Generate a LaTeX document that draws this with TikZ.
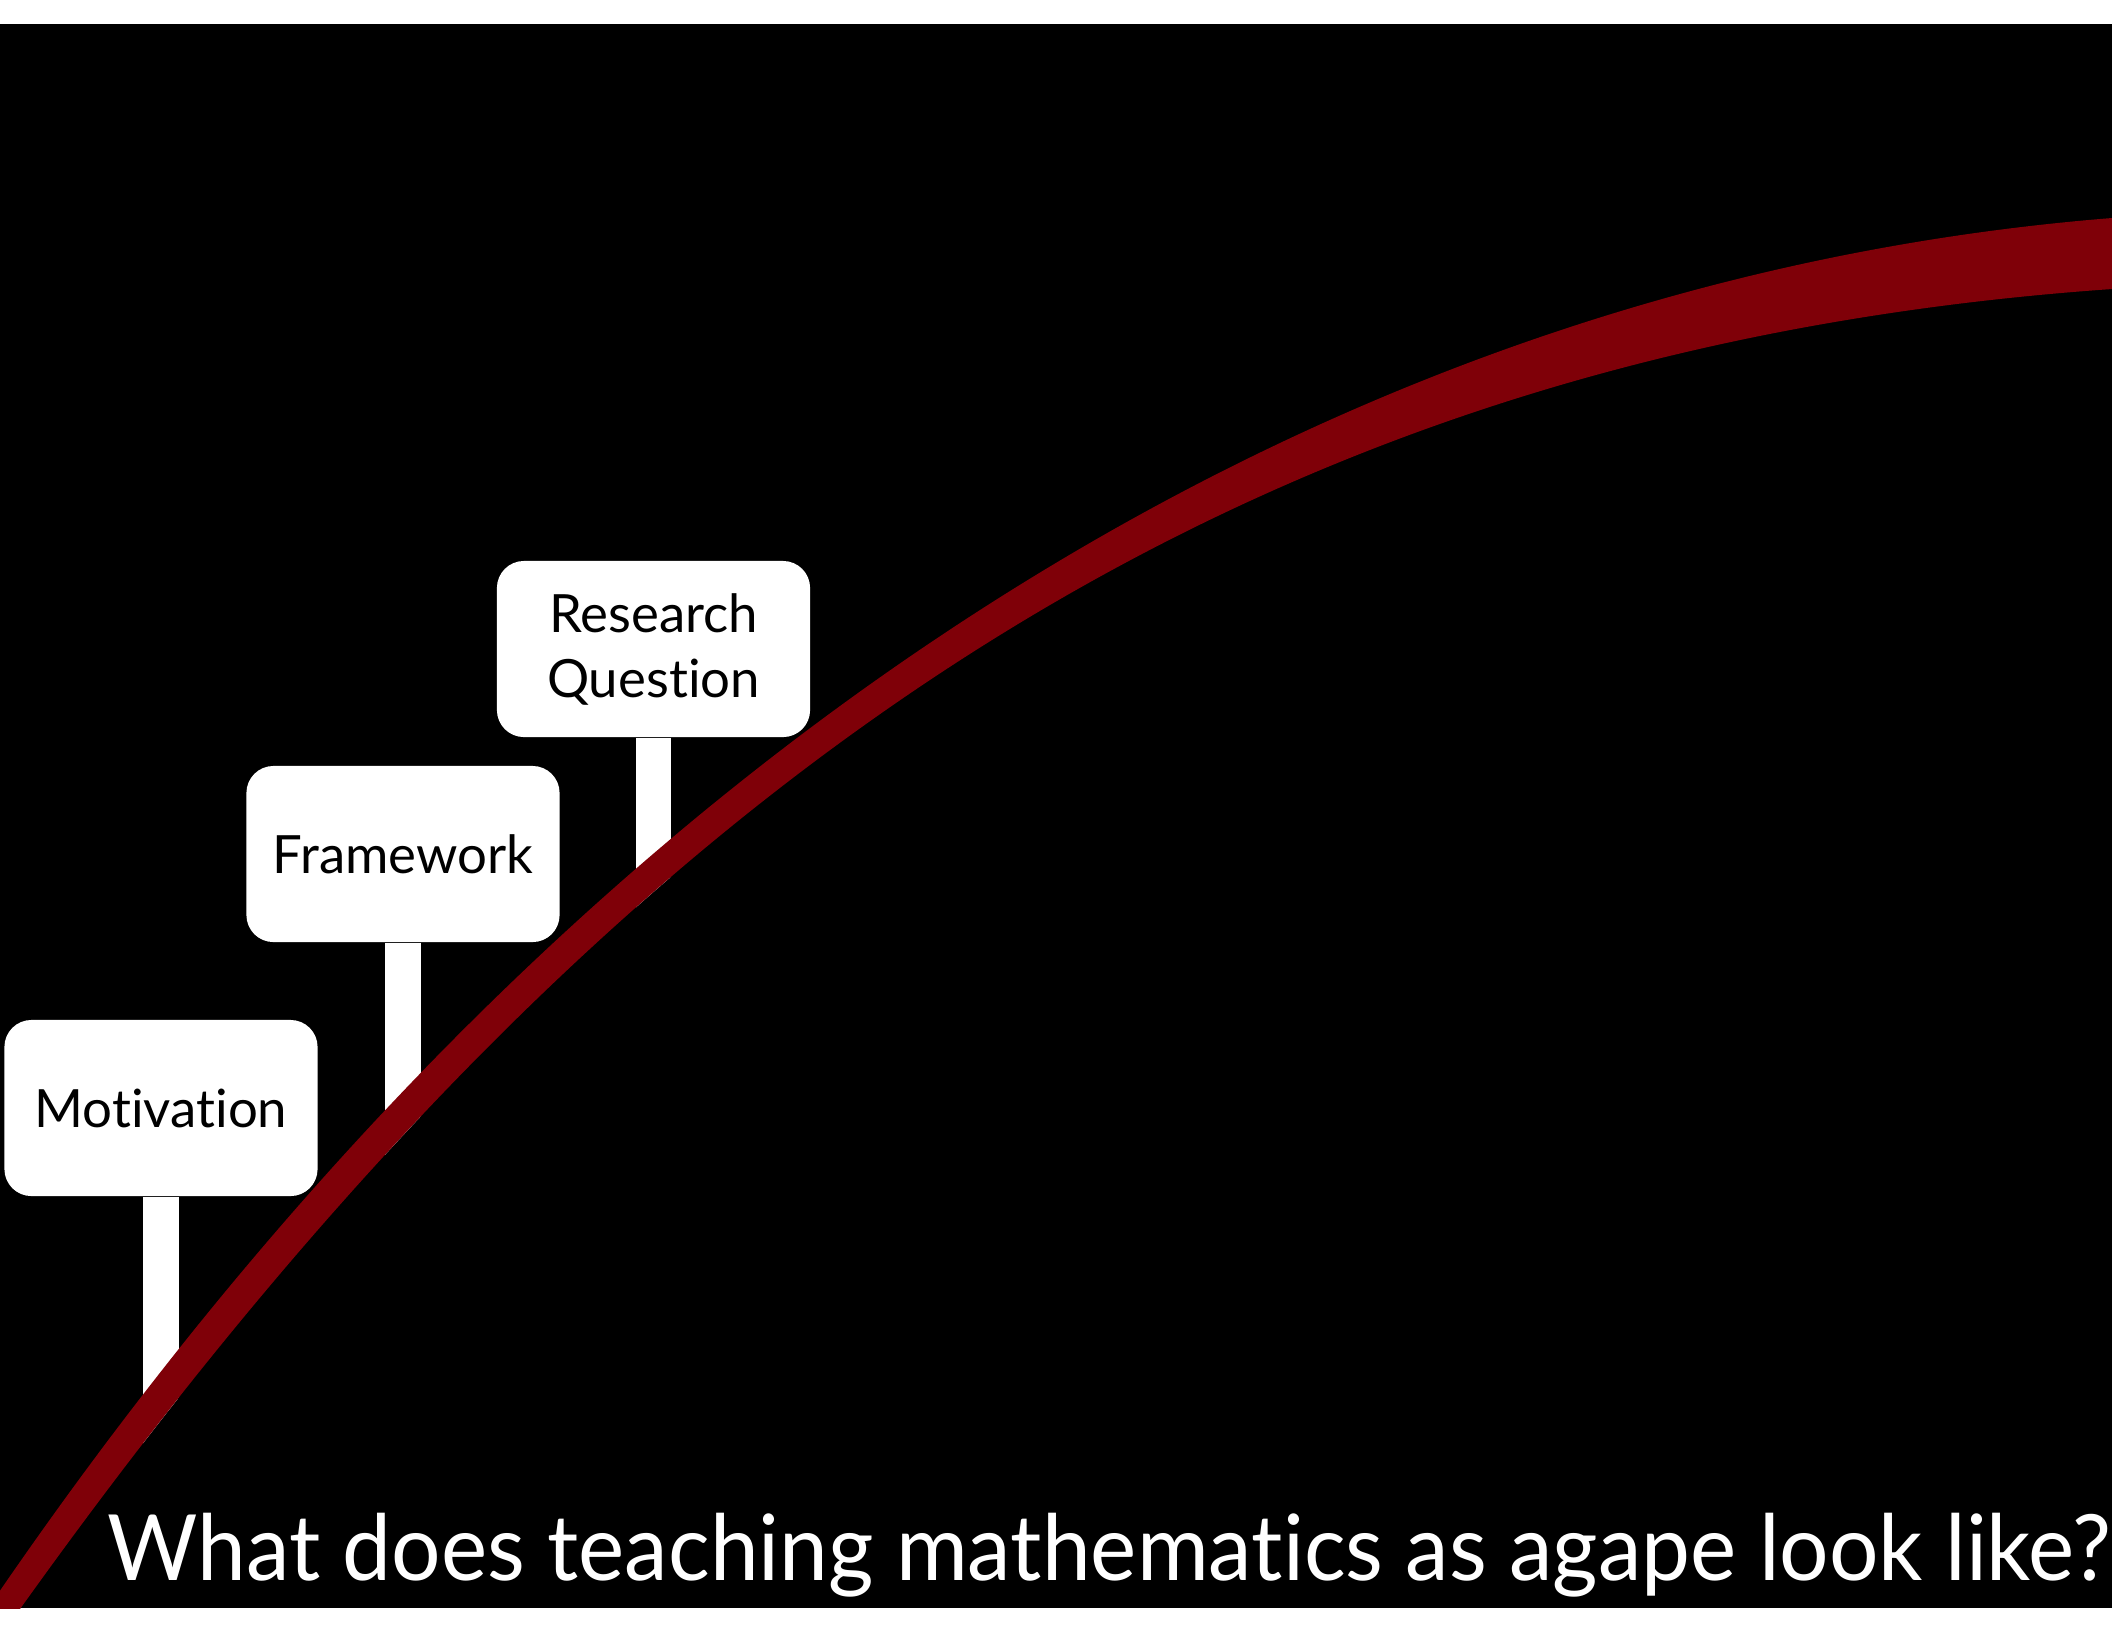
\documentclass[tikz,border=0pt]{standalone}
\usepackage{fontspec}
\setmainfont{Lato}[Ligatures=NoCommon]
\newfontfamily\questfont{Lato}[Ligatures=NoCommon,FakeStretch=0.955]
\usepackage{tikz}
\definecolor{AgapeRed}{HTML}{7F0008}

\begin{document}
\begin{tikzpicture}[x=0.01cm,y=-0.01cm]
\tikzstyle{sign}=[rectangle,rounded corners=0.27cm,fill=white,text=black,
                  minimum width=3.13cm,minimum height=1.76cm,align=center,inner sep=0pt,
                  font=\fontsize{15}{18.5}\selectfont]
\tikzstyle{post}=[draw=white,line width=0.355cm]
\useasboundingbox (0,0) rectangle (2112,1632);
\fill[white] (0,0) rectangle (2112,1632);
\fill[black] (0,24) rectangle (2112,1608);
% signs
\node[sign] (motiv) at (161,1108) {Motivation};
\node[sign] (frame) at (403,854) {Framework};
\node[sign] (rq) at (653.5,649) {Research\\Question};
\coordinate (motivFoot) at (161,1600);
\coordinate (frameFoot) at (403,1600);
\coordinate (rqFoot) at (653.5,1600);
% posts, cut off at the lower rim of the swoosh
\begin{scope}
\clip (-20,0) -- (-20,1640) -- (-2,1640) .. controls (622,755) and (1256,349) .. (2112,289)
      -- (2120,289) -- (2120,0) -- cycle;
\draw[post] (motiv.south) -- (motivFoot);
\draw[post] (frame.south) -- (frameFoot);
\draw[post] (rq.south) -- (rqFoot);
\end{scope}
% swoosh
\begin{scope}
\clip (0,24) rectangle (2112,1608);
\fill[AgapeRed] (-20,1620) .. controls (552,774) and (1298,283) .. (2112,218)
  -- (2120,218) -- (2120,289) -- (2112,289)
  .. controls (1256,349) and (622,755) .. (-2,1640) -- cycle;
\end{scope}
\node[anchor=base west,text=white,inner sep=0pt,font=\questfont\fontsize{26}{30}\selectfont] (quest)
  at (107,1580) {What does teaching mathematics as agape look like?};
\end{tikzpicture}
\end{document}
